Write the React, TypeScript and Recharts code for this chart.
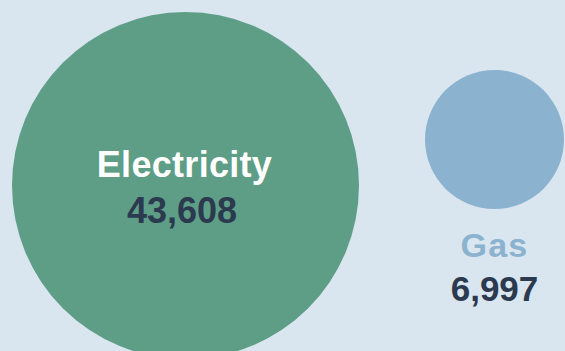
import { Scatter, ScatterChart, XAxis, YAxis, ZAxis } from "recharts";

const categories = ["Electricity", "Gas"];
const usage = [43608, 6997];

const bubbleColors = ["#5e9e87", "#8bb3d0"];
const BG = "#d9e5ef";
const DARK = "#2b3a4f";
const FONT = "'Liberation Sans', Arial, Helvetica, sans-serif";

const W = 565;
const H = 351;
const R_MAX = 173.5;
const EDGE = 12;
const GAP = 66;
const RAISE = 46;

const maxVal = Math.max(...usage);
const rOf = (v: number) => R_MAX * Math.sqrt(v / maxVal);

// simple side-by-side packing: biggest bubble on the left, next to its right, raised a little
const bubbles = categories.map((name, i) => {
  const big = EDGE + R_MAX;
  const x = i === 0 ? big : big + R_MAX + GAP + rOf(usage[i]);
  const y = i === 0 ? big : big - RAISE;
  return { name, value: usage[i], x, y };
});

function Bubble(props: any) {
  const { cx, cy, payload } = props;
  const r = props.width ? props.width / 2 : Math.sqrt(props.size / Math.PI);
  const idx = categories.indexOf(payload.name);
  const fill = bubbleColors[idx];
  const inside = r > 100;
  const num = payload.value.toLocaleString("en-US");
  return (
    <g>
      <circle cx={cx} cy={cy} r={r} fill={fill} />
      {inside ? (
        <>
          <text x={cx - 1} y={cy - 8.5} textAnchor="middle" fill="#fff" fontFamily={FONT} fontWeight="bold" fontSize={36} letterSpacing={0.3}>
            {payload.name}
          </text>
          <text x={cx - 3.5} y={cy + 37.5} textAnchor="middle" fill={DARK} fontFamily={FONT} fontWeight="bold" fontSize={36}>
            {num}
          </text>
        </>
      ) : (
        <>
          <text x={cx} y={cy + r + 48} textAnchor="middle" fill={fill} fontFamily={FONT} fontWeight="bold" fontSize={34} letterSpacing={1.2}>
            {payload.name}
          </text>
          <text x={cx} y={cy + r + 92} textAnchor="middle" fill={DARK} fontFamily={FONT} fontWeight="bold" fontSize={35}>
            {num}
          </text>
        </>
      )}
    </g>
  );
}

export default function App() {
  return (
    <div style={{ position: "absolute", left: 0, top: 0, width: W, height: H, background: BG, overflow: "hidden" }}>
      <ScatterChart width={W} height={H} margin={{ top: 0, right: 0, bottom: 0, left: 0 }}>
        <XAxis type="number" dataKey="x" domain={[0, W]} hide />
        <YAxis type="number" dataKey="y" domain={[0, H]} reversed hide />
        <ZAxis type="number" dataKey="value" domain={[0, maxVal]} range={[0, Math.PI * R_MAX * R_MAX]} />
        <Scatter data={bubbles} shape={Bubble} isAnimationActive={false} />
      </ScatterChart>
    </div>
  );
}
